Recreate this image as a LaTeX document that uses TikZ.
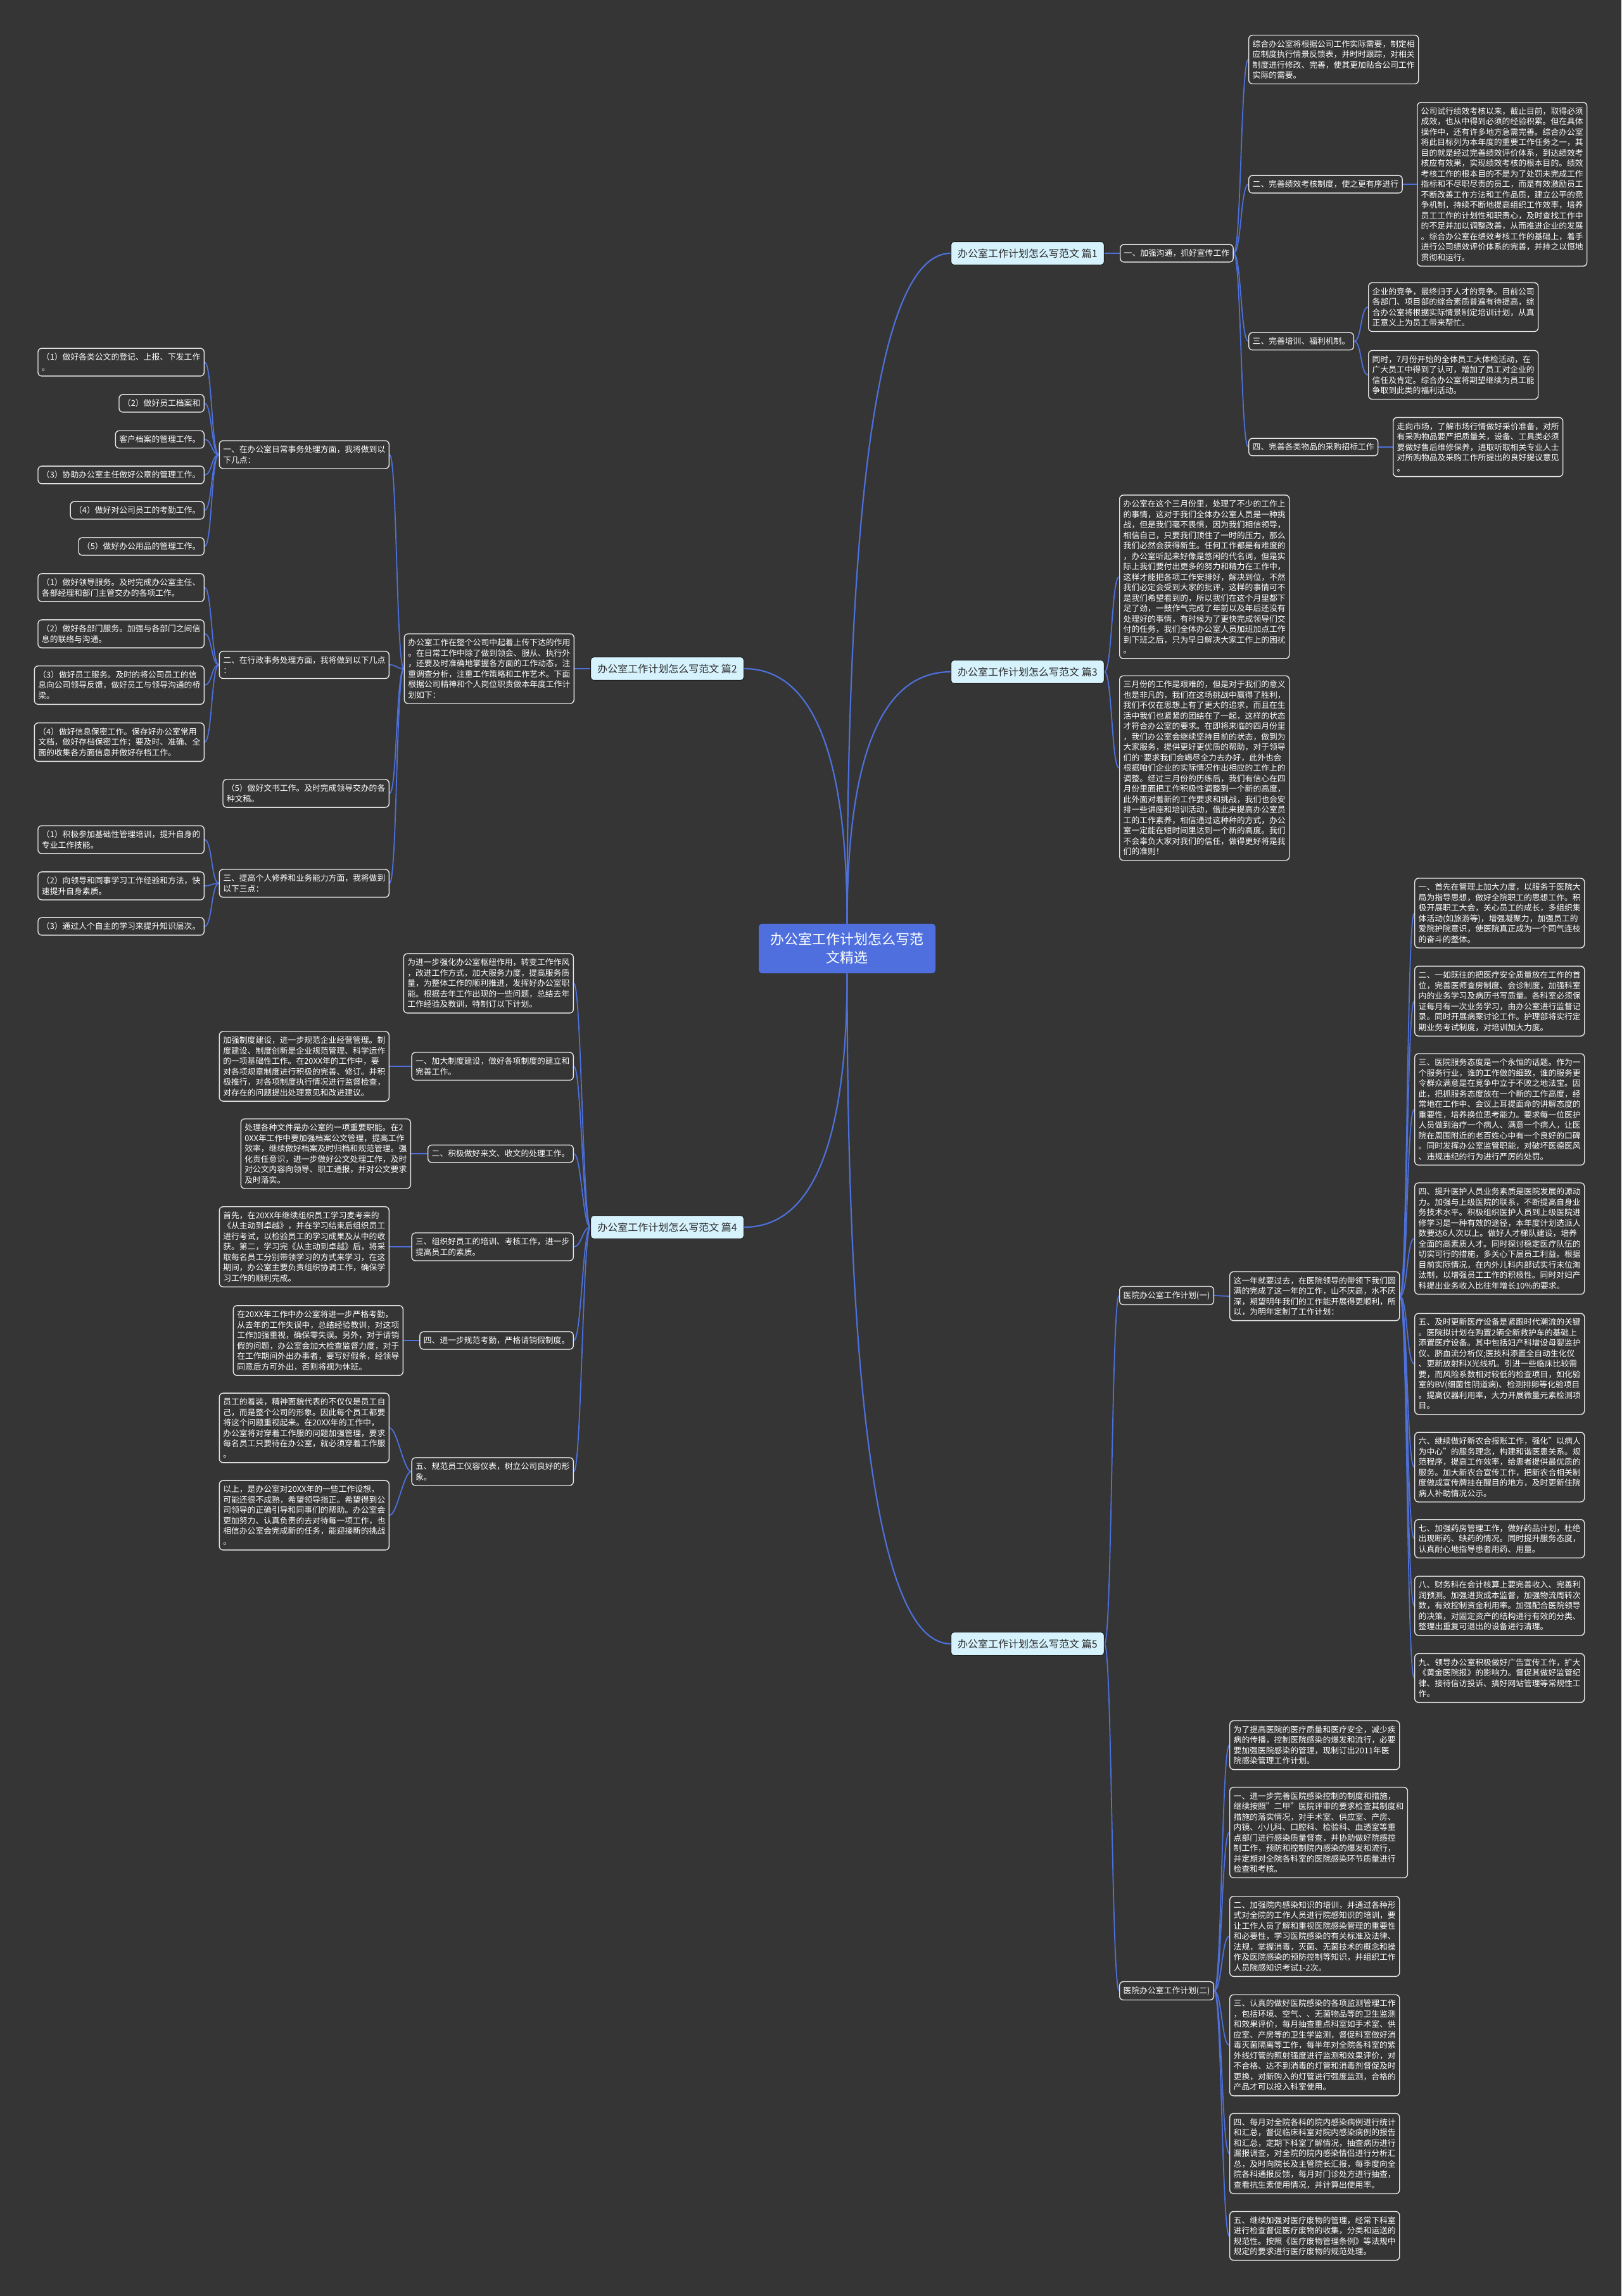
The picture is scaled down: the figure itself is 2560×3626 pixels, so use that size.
\documentclass[tikz,border=0pt]{standalone}
\usepackage{fontspec}
\setmainfont{Noto Sans CJK SC}
\usetikzlibrary{backgrounds}
\definecolor{bgc}{HTML}{353535}
\definecolor{boxline}{HTML}{E6E6E6}
\definecolor{linkc}{HTML}{4D70DA}
\definecolor{topicfill}{HTML}{D6F2FC}
\definecolor{topictext}{HTML}{2B2B2B}
\definecolor{topicline}{HTML}{1E1E1E}
\definecolor{rootfill}{HTML}{4E6FDD}
\tikzset{
  box/.style={draw=boxline, line width=1.4pt, rounded corners=6pt, fill=bgc, text=white,
    align=left, inner xsep=6pt, inner ysep=7.8pt, font=\fontsize{12.8}{16.5}\selectfont},
  rbox/.style={box, anchor=west},
  lbox/.style={box, anchor=east},
  topic/.style={draw=topicline, line width=1pt, rounded corners=5pt, fill=topicfill,
    text=topictext, inner xsep=10.7pt, inner ysep=11pt, font=\fontsize{16}{19}\selectfont},
  rootnode/.style={fill=rootfill, rounded corners=6pt, text=white, align=center,
    inner xsep=18.5pt, inner ysep=14.5pt, font=\fontsize{22}{29}\selectfont},
  link/.style={draw=linkc, line width=1.8pt},
  mainlink/.style={draw=linkc, line width=2.2pt}
}
\newcommand\rlink[2]{\draw[link] (#1.east) .. controls +(12,0) and +(-12,0) .. (#2.west);}
\newcommand\llink[2]{\draw[link] (#1.west) .. controls +(-12,0) and +(12,0) .. (#2.east);}
\begin{document}
\begin{tikzpicture}[x=1pt,y=-1pt]
\useasboundingbox (0,0) rectangle (2560,3626);

% root
\node[rootnode] (root) at (1337.5,1498) {办公室工作计划怎么写范\\文精选};

% ===== 篇1 =====
\node[topic, anchor=west] (p1) at (1501,400) {办公室工作计划怎么写范文 篇1};
\node[rbox] (a1) at (1768,400) {一、加强沟通，抓好宣传工作};
\node[rbox] (A) at (1971,94) {综合办公室将根据公司工作实际需要，制定相\\应制度执行情景反馈表，并时时跟踪，对相关\\制度进行修改、完善，使其更加贴合公司工作\\实际的需要。};
\node[rbox] (a2) at (1971,291) {二、完善绩效考核制度，使之更有序进行};
\node[rbox] (B) at (2237,291) {公司试行绩效考核以来，截止目前，取得必须\\成效，也从中得到必须的经验积累。但在具体\\操作中，还有许多地方急需完善。综合办公室\\将此目标列为本年度的重要工作任务之一，其\\目的就是经过完善绩效评价体系，到达绩效考\\核应有效果，实现绩效考核的根本目的。绩效\\考核工作的根本目的不是为了处罚未完成工作\\指标和不尽职尽责的员工，而是有效激励员工\\不断改善工作方法和工作品质，建立公平的竞\\争机制，持续不断地提高组织工作效率，培养\\员工工作的计划性和职责心，及时查找工作中\\的不足并加以调整改善，从而推进企业的发展\\。综合办公室在绩效考核工作的基础上，着手\\进行公司绩效评价体系的完善，并持之以恒地\\贯彻和运行。};
\node[rbox] (a3) at (1971,539) {三、完善培训、福利机制。};
\node[rbox] (C) at (2160,485) {企业的竞争，最终归于人才的竞争。目前公司\\各部门、项目部的综合素质普遍有待提高，综\\合办公室将根据实际情景制定培训计划，从真\\正意义上为员工带来帮忙。};
\node[rbox] (D) at (2160,592) {同时，7月份开始的全体员工大体检活动，在\\广大员工中得到了认可，增加了员工对企业的\\信任及肯定。综合办公室将期望继续为员工能\\争取到此类的福利活动。};
\node[rbox] (a4) at (1971,706) {四、完善各类物品的采购招标工作};
\node[rbox] (E) at (2199,706) {走向市场，了解市场行情做好采价准备，对所\\有采购物品要严把质量关，设备、工具类必须\\要做好售后维修保养，进取听取相关专业人士\\对所购物品及采购工作所提出的良好提议意见\\。};

% ===== 篇3 =====
\node[topic, anchor=west] (p3) at (1501,1061) {办公室工作计划怎么写范文 篇3};
\node[rbox] (b1) at (1767,911) {办公室在这个三月份里，处理了不少的工作上\\的事情，这对于我们全体办公室人员是一种挑\\战，但是我们毫不畏惧，因为我们相信领导，\\相信自己，只要我们顶住了一时的压力，那么\\我们必然会获得新生。任何工作都是有难度的\\，办公室听起来好像是悠闲的代名词，但是实\\际上我们要付出更多的努力和精力在工作中，\\这样才能把各项工作安排好，解决到位，不然\\我们必定会受到大家的批评，这样的事情可不\\是我们希望看到的，所以我们在这个月里都下\\足了劲，一鼓作气完成了年前以及年后还没有\\处理好的事情，有时候为了更快完成领导们交\\付的任务，我们全体办公室人员加班加点工作\\到下班之后，只为早日解决大家工作上的困扰\\。};
\node[rbox] (b2) at (1767,1213) {三月份的工作是艰难的，但是对于我们的意义\\也是非凡的，我们在这场挑战中赢得了胜利，\\我们不仅在思想上有了更大的追求，而且在生\\活中我们也紧紧的团结在了一起，这样的状态\\才符合办公室的要求。在即将来临的四月份里\\，我们办公室会继续坚持目前的状态，做到为\\大家服务，提供更好更优质的帮助，对于领导\\们的{\ttfamily\symbol{96}}要求我们会竭尽全力去办好，此外也会\\根据咱们企业的实际情况作出相应的工作上的\\调整。经过三月份的历练后，我们有信心在四\\月份里面把工作积极性调整到一个新的高度，\\此外面对着新的工作要求和挑战，我们也会安\\排一些讲座和培训活动，借此来提高办公室员\\工的工作素养，相信通过这种种的方式，办公\\室一定能在短时间里达到一个新的高度。我们\\不会辜负大家对我们的信任，做得更好将是我\\们的准则！};

% ===== 篇5 =====
\node[topic, anchor=west] (p5) at (1501,2596) {办公室工作计划怎么写范文 篇5};
\node[rbox] (q1) at (1767,2046) {医院办公室工作计划(一)};
\node[rbox] (qb) at (1941,2047) {这一年就要过去，在医院领导的带领下我们圆\\满的完成了这一年的工作，山不厌高，水不厌\\深，期望明年我们的工作能开展得更顺利，所\\以，为明年定制了工作计划：};
\node[rbox] (s1) at (2233,1442) {一、首先在管理上加大力度，以服务于医院大\\局为指导思想，做好全院职工的思想工作。积\\极开展职工大会，关心员工的成长，多组织集\\体活动(如旅游等)，增强凝聚力，加强员工的\\爱院护院意识，使医院真正成为一个同气连枝\\的奋斗的整体。};
\node[rbox] (s2) at (2233,1581) {二、一如既往的把医疗安全质量放在工作的首\\位，完善医师查房制度、会诊制度，加强科室\\内的业务学习及病历书写质量。各科室必须保\\证每月有一次业务学习，由办公室进行监督记\\录。同时开展病案讨论工作。护理部将实行定\\期业务考试制度，对培训加大力度。};
\node[rbox] (s3) at (2233,1752) {三、医院服务态度是一个永恒的话题。作为一\\个服务行业，谁的工作做的细致，谁的服务更\\令群众满意是在竞争中立于不败之地法宝。因\\此，把抓服务态度放在一个新的工作高度，经\\常地在工作中、会议上耳提面命的讲解态度的\\重要性，培养换位思考能力。要求每一位医护\\人员做到治疗一个病人、满意一个病人，让医\\院在周围附近的老百姓心中有一个良好的口碑\\。同时发挥办公室监管职能，对破坏医德医风\\、违规违纪的行为进行严厉的处罚。};
\node[rbox] (s4) at (2233,1956) {四、提升医护人员业务素质是医院发展的源动\\力。加强与上级医院的联系，不断提高自身业\\务技术水平。积极组织医护人员到上级医院进\\修学习是一种有效的途径，本年度计划选派人\\数要达6人次以上。做好人才梯队建设，培养\\全面的高素质人才。同时探讨稳定医疗队伍的\\切实可行的措施，多关心下层员工利益。根据\\目前实际情况，在内外儿科内部试实行末位淘\\汰制，以增强员工工作的积极性。同时对妇产\\科提出业务收入比往年增长10\%的要求。};
\node[rbox] (s5) at (2233,2154) {五、及时更新医疗设备是紧跟时代潮流的关键\\。医院拟计划在购置2辆全新救护车的基础上\\添置医疗设备。其中包括妇产科增设母婴监护\\仪、脐血流分析仪;医技科添置全自动生化仪\\、更新放射科X光线机。引进一些临床比较需\\要，而风险系数相对较低的检查项目，如化验\\室的BV(细菌性阴道病)、检测排卵等化验项目\\。提高仪器利用率，大力开展微量元素检测项\\目。};
\node[rbox] (s6) at (2233,2317) {六、继续做好新农合报账工作，强化"以病人\\为中心"的服务理念，构建和谐医患关系。规\\范程序，提高工作效率，给患者提供最优质的\\服务。加大新农合宣传工作，把新农合相关制\\度做成宣传牌挂在醒目的地方，及时更新住院\\病人补助情况公示。};
\node[rbox] (s7) at (2233,2430) {七、加强药房管理工作，做好药品计划，杜绝\\出现断药、缺药的情况。同时提升服务态度，\\认真耐心地指导患者用药、用量。};
\node[rbox] (s8) at (2233,2536) {八、财务科在会计核算上要完善收入、完善利\\润预测。加强进货成本监督，加强物流周转次\\数，有效控制资金利用率。加强配合医院领导\\的决策，对固定资产的结构进行有效的分类、\\整理出重复可退出的设备进行清理。};
\node[rbox] (s9) at (2233,2650) {九、领导办公室积极做好广告宣传工作，扩大\\《黄金医院报》的影响力。督促其做好监管纪\\律、接待信访投诉、搞好网站管理等常规性工\\作。};
\node[rbox] (q2) at (1767,3144) {医院办公室工作计划(二)};
\node[rbox] (t0) at (1941,2756) {为了提高医院的医疗质量和医疗安全，减少疾\\病的传播，控制医院感染的爆发和流行，必要\\要加强医院感染的管理，现制订出2011年医\\院感染管理工作计划。};
\node[rbox] (t1) at (1941,2894) {一、进一步完善医院感染控制的制度和措施，\\继续按照"二甲"医院评审的要求检查其制度和\\措施的落实情况，对手术室、供应室、产房、\\内镜、小儿科、口腔科、检验科、血透室等重\\点部门进行感染质量督查，并协助做好院感控\\制工作，预防和控制院内感染的爆发和流行，\\并定期对全院各科室的医院感染环节质量进行\\检查和考核。};
\node[rbox] (t2) at (1941,3058) {二、加强院内感染知识的培训，并通过各种形\\式对全院的工作人员进行院感知识的培训，要\\让工作人员了解和重视医院感染管理的重要性\\和必要性，学习医院感染的有关标准及法律、\\法规，掌握消毒，灭菌、无菌技术的概念和操\\作及医院感染的预防控制等知识，并组织工作\\人员院感知识考试1-2次。};
\node[rbox] (t3) at (1941,3230) {三、认真的做好医院感染的各项监测管理工作\\，包括环境、空气、、无菌物品等的卫生监测\\和效果评价，每月抽查重点科室如手术室、供\\应室、产房等的卫生学监测，督促科室做好消\\毒灭菌隔离等工作，每半年对全院各科室的紫\\外线灯管的照射强度进行监测和效果评价，对\\不合格、达不到消毒的灯管和消毒剂督促及时\\更换，对新购入的灯管进行强度监测，合格的\\产品才可以投入科室使用。};
\node[rbox] (t4) at (1941,3401) {四、每月对全院各科的院内感染病例进行统计\\和汇总，督促临床科室对院内感染病例的报告\\和汇总，定期下科室了解情况，抽查病历进行\\漏报调查，对全院的院内感染情侣进行分析汇\\总，及时向院长及主管院长汇报，每季度向全\\院各科通报反馈，每月对门诊处方进行抽查，\\查看抗生素使用情况，并计算出使用率。};
\node[rbox] (t5) at (1941,3531) {五、继续加强对医疗废物的管理，经常下科室\\进行检查督促医疗废物的收集，分类和运送的\\规范性。按照《医疗废物管理条例》等法规中\\规定的要求进行医疗废物的规范处理。};

% ===== 篇2 =====
\node[topic, anchor=east] (p2) at (1175,1056) {办公室工作计划怎么写范文 篇2};
\node[lbox] (i2) at (907,1056) {办公室工作在整个公司中起着上传下达的作用\\。在日常工作中除了做到领会、服从、执行外\\，还要及时准确地掌握各方面的工作动态，注\\重调查分析，注重工作策略和工作艺术。下面\\根据公司精神和个人岗位职责做本年度工作计\\划如下：};
\node[lbox] (m1) at (615,718) {一、在办公室日常事务处理方面，我将做到以\\下几点：};
\node[lbox] (m2) at (615,1050) {二、在行政事务处理方面，我将做到以下几点\\：};
\node[lbox] (m3) at (615,1253) {（5）做好文书工作。及时完成领导交办的各\\种文稿。};
\node[lbox] (m4) at (615,1395) {三、提高个人修养和业务能力方面，我将做到\\以下三点：};
\node[lbox] (l1) at (323,572) {（1）做好各类公文的登记、上报、下发工作\\。};
\node[lbox] (l2) at (323,637) {（2）做好员工档案和};
\node[lbox] (l3) at (323,694) {客户档案的管理工作。};
\node[lbox] (l4) at (323,750) {（3）协助办公室主任做好公章的管理工作。};
\node[lbox] (l5) at (323,806) {（4）做好对公司员工的考勤工作。};
\node[lbox] (l6) at (323,863) {（5）做好办公用品的管理工作。};
\node[lbox] (l7) at (323,928) {（1）做好领导服务。及时完成办公室主任、\\各部经理和部门主管交办的各项工作。};
\node[lbox] (l8) at (323,1001) {（2）做好各部门服务。加强与各部门之间信\\息的联络与沟通。};
\node[lbox] (l9) at (323,1082) {（3）做好员工服务。及时的将公司员工的信\\息向公司领导反馈，做好员工与领导沟通的桥\\梁。};
\node[lbox] (l10) at (323,1172) {（4）做好信息保密工作。保存好办公室常用\\文档，做好存档保密工作；要及时、准确、全\\面的收集各方面信息并做好存档工作。};
\node[lbox] (l11) at (323,1326) {（1）积极参加基础性管理培训，提升自身的\\专业工作技能。};
\node[lbox] (l12) at (323,1399) {（2）向领导和同事学习工作经验和方法，快\\速提升自身素质。};
\node[lbox] (l13) at (323,1463) {（3）通过人个自主的学习来提升知识层次。};

% ===== 篇4 =====
\node[topic, anchor=east] (p4) at (1175,1938) {办公室工作计划怎么写范文 篇4};
\node[lbox] (i4) at (906,1553) {为进一步强化办公室枢纽作用，转变工作作风\\，改进工作方式，加大服务力度，提高服务质\\量，为整体工作的顺利推进，发挥好办公室职\\能。根据去年工作出现的一些问题，总结去年\\工作经验及教训，特制订以下计划。};
\node[lbox] (k1) at (906,1684) {一、加大制度建设，做好各项制度的建立和\\完善工作。};
\node[lbox] (kb1) at (615,1684) {加强制度建设，进一步规范企业经营管理。制\\度建设、制度创新是企业规范管理、科学运作\\的一项基础性工作。在20XX年的工作中，要\\对各项规章制度进行积极的完善、修订。并积\\极推行，对各项制度执行情况进行监督检查，\\对存在的问题提出处理意见和改进建议。};
\node[lbox] (k2) at (906,1822) {二、积极做好来文、收文的处理工作。};
\node[lbox] (kb2) at (649,1822) {处理各种文件是办公室的一项重要职能。在2\\0XX年工作中要加强档案公文管理，提高工作\\效率，继续做好档案及时归档和规范管理。强\\化责任意识，进一步做好公文处理工作，及时\\对公文内容向领导、职工通报，并对公文要求\\及时落实。};
\node[lbox] (k3) at (906,1969) {三、组织好员工的培训、考核工作，进一步\\提高员工的素质。};
\node[lbox] (kb3) at (615,1969) {首先，在20XX年继续组织员工学习麦考来的\\《从主动到卓越》，并在学习结束后组织员工\\进行考试，以检验员工的学习成果及从中的收\\获。第二，学习完《从主动到卓越》后，将采\\取每名员工分别带领学习的方式来学习，在这\\期间，办公室主要负责组织协调工作，确保学\\习工作的顺利完成。};
\node[lbox] (k4) at (906,2117) {四、进一步规范考勤，严格请销假制度。};
\node[lbox] (kb4) at (637,2117) {在20XX年工作中办公室将进一步严格考勤，\\从去年的工作失误中，总结经验教训，对这项\\工作加强重视，确保零失误。另外，对于请销\\假的问题，办公室会加大检查监督力度，对于\\在工作期间外出办事者，要写好假条，经领导\\同意后方可外出，否则将视为休班。};
\node[lbox] (k5) at (906,2324) {五、规范员工仪容仪表，树立公司良好的形\\象。};
\node[lbox] (kb5a) at (615,2255) {员工的着装，精神面貌代表的不仅仅是员工自\\己，而是整个公司的形象。因此每个员工都要\\将这个问题重视起来。在20XX年的工作中，\\办公室将对穿着工作服的问题加强管理，要求\\每名员工只要待在办公室，就必须穿着工作服\\。};
\node[lbox] (kb5b) at (615,2393) {以上，是办公室对20XX年的一些工作设想，\\可能还很不成熟，希望领导指正。希望得到公\\司领导的正确引导和同事们的帮助。办公室会\\更加努力、认真负责的去对待每一项工作，也\\相信办公室会完成新的任务，能迎接新的挑战\\。};

\begin{scope}[on background layer]
\fill[bgc] (0,0) rectangle (2560,3626);
% main links: leave the root vertically, arrive horizontally
\draw[mainlink] (root.north) .. controls +(0,-705) and +(-109,0) .. (p1.west);
\draw[mainlink] (root.north) .. controls +(0,-265) and +(-109,0) .. (p3.west);
\draw[mainlink] (root.north) .. controls +(0,-268) and +(108,0) .. (p2.east);
\draw[mainlink] (root.south) .. controls +(0,267) and +(108,0) .. (p4.east);
\draw[mainlink] (root.south) .. controls +(0,705) and +(-109,0) .. (p5.west);
% 篇1
\rlink{p1}{a1}
\rlink{a1}{A}\rlink{a1}{a2}\rlink{a1}{a3}\rlink{a1}{a4}
\rlink{a2}{B}\rlink{a3}{C}\rlink{a3}{D}\rlink{a4}{E}
% 篇3
\rlink{p3}{b1}\rlink{p3}{b2}
% 篇5
\rlink{p5}{q1}\rlink{p5}{q2}\rlink{q1}{qb}
\rlink{qb}{s1}\rlink{qb}{s2}\rlink{qb}{s3}\rlink{qb}{s4}\rlink{qb}{s5}
\rlink{qb}{s6}\rlink{qb}{s7}\rlink{qb}{s8}\rlink{qb}{s9}
\rlink{q2}{t0}\rlink{q2}{t1}\rlink{q2}{t2}\rlink{q2}{t3}\rlink{q2}{t4}\rlink{q2}{t5}
% 篇2
\llink{p2}{i2}
\llink{i2}{m1}\llink{i2}{m2}\llink{i2}{m3}\llink{i2}{m4}
\llink{m1}{l1}\llink{m1}{l2}\llink{m1}{l3}\llink{m1}{l4}\llink{m1}{l5}\llink{m1}{l6}
\llink{m2}{l7}\llink{m2}{l8}\llink{m2}{l9}\llink{m2}{l10}
\llink{m4}{l11}\llink{m4}{l12}\llink{m4}{l13}
% 篇4
\llink{p4}{i4}\llink{p4}{k1}\llink{p4}{k2}\llink{p4}{k3}\llink{p4}{k4}\llink{p4}{k5}
\llink{k1}{kb1}\llink{k2}{kb2}\llink{k3}{kb3}\llink{k4}{kb4}
\llink{k5}{kb5a}\llink{k5}{kb5b}
\end{scope}
\end{tikzpicture}
\end{document}
